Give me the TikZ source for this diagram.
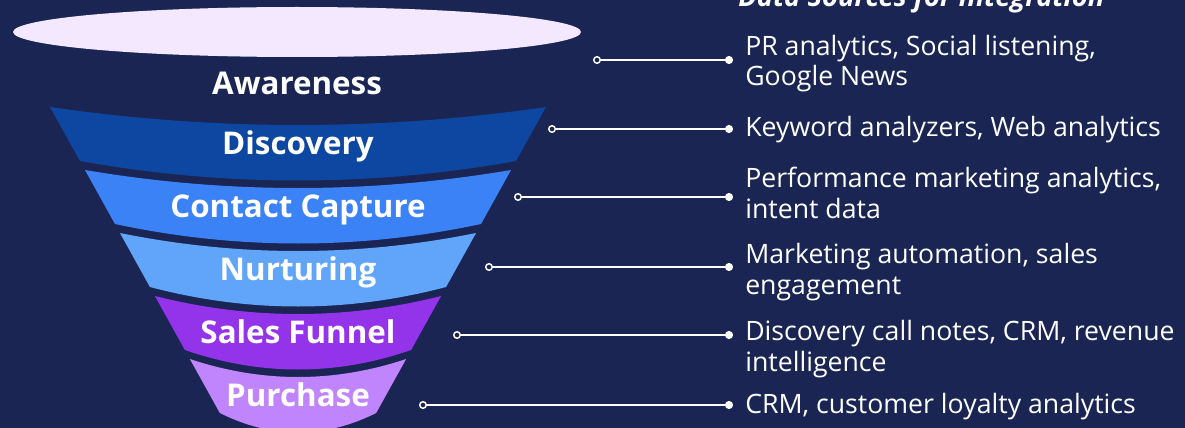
\documentclass[tikz,border=0pt]{standalone}
\usepackage{fontspec}
\setmainfont{Open Sans}
\usetikzlibrary{arrows.meta}

\definecolor{bgnavy}{HTML}{1A2553}
\definecolor{rimlilac}{HTML}{F3E8FF}
\definecolor{discblue}{HTML}{0D47A1}
\definecolor{captblue}{HTML}{3B82F6}
\definecolor{nurtblue}{HTML}{60A5FA}
\definecolor{salespurple}{HTML}{9333EA}
\definecolor{purchlilac}{HTML}{C084FC}

\begin{document}
\begin{tikzpicture}[x=0.75pt,y=-0.75pt,
  stage/.style={text=white,anchor=base,inner sep=0pt,
    font=\fontsize{23.5}{26}\selectfont\bfseries},
  source/.style={text=white,anchor=base west,align=left,inner sep=0pt,
    font=\fontsize{20}{23.25}\selectfont},
  link/.style={white,line width=1.3pt,
    {Circle[open,length=6pt,fill=bgnavy,line width=1.1pt]}-{Circle[length=6pt]}}]

\clip (0,0) rectangle (1185,428);
\fill[bgnavy] (0,0) rectangle (1185,428);

% rim of the funnel
\fill[rimlilac] (297,32) ellipse (284 and 25);
\node[stage] (aware) at (297,94) {Awareness};

% funnel bands
\foreach \t/\c/\lab/\nm in {107/discblue/Discovery/disc,
    170/captblue/Contact Capture/capt,
    233/nurtblue/Nurturing/nurt,
    296/salespurple/Sales Funnel/sales,
    359/purchlilac/Purchase/purch}{
  \pgfmathsetmacro\b{\t+54}
  \pgfmathsetmacro\wt{248-0.555*(\t-107)}
  \pgfmathsetmacro\wb{248-0.555*(\b-107)}
  \fill[\c] (298-\wt,\t) .. controls (298-\wt/3,\t+24) and (298+\wt/3,\t+24) .. (298+\wt,\t)
    -- (298+\wb,\b) .. controls (298+\wb/3,\b+26) and (298-\wb/3,\b+26) .. (298-\wb,\b) -- cycle;
  \node[stage] (\nm) at (298,\t+47) {\lab};
}

% connectors
\foreach \lx/\y [count=\i] in {593/60, 548/129, 514/197, 485/267, 453/335, 419/405}{
  \coordinate (a\i) at (\lx,\y);
  \coordinate (b\i) at (733,\y);
  \draw[link] (a\i) -- (b\i);
}

% data sources (base = last line)
\node[anchor=base west,text=white,inner sep=0pt,
  font=\fontsize{20.5}{22}\selectfont\bfseries\itshape] (title) at (738,7)
  {Data Sources for Integration};
\node[source] (src1) at (745,86) {PR analytics, Social listening,\\Google News};
\node[source] (src2) at (745,137) {Keyword analyzers, Web analytics};
\node[source] (src3) at (745,218) {Performance marketing analytics,\\intent data};
\node[source] (src4) at (745,294) {Marketing automation, sales\\engagement};
\node[source] (src5) at (745,371) {Discovery call notes, CRM, revenue\\intelligence};
\node[source] (src6) at (745,413) {CRM, customer loyalty analytics};

\end{tikzpicture}
\end{document}
